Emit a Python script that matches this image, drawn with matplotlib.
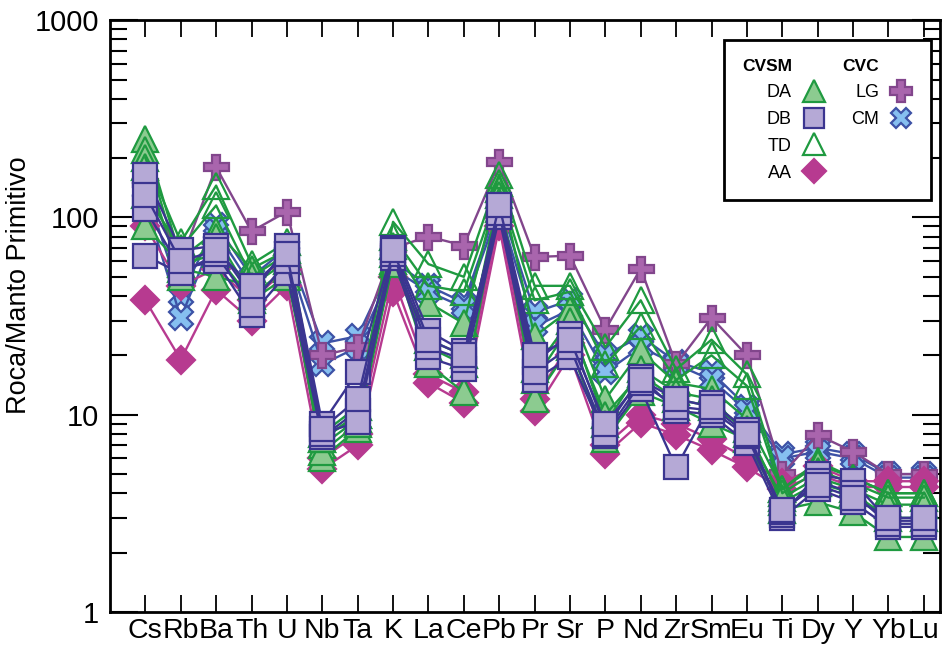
import matplotlib
matplotlib.use('Agg')
import matplotlib.pyplot as plt
from matplotlib.lines import Line2D
from matplotlib.ticker import FuncFormatter, NullLocator
from matplotlib import font_manager

# normalised values (rock / primitive mantle), one list per sample
elements = ['Cs', 'Rb', 'Ba', 'Th', 'U', 'Nb', 'Ta', 'K', 'La', 'Ce', 'Pb', 'Pr',
            'Sr', 'P', 'Nd', 'Zr', 'Sm', 'Eu', 'Ti', 'Dy', 'Y', 'Yb', 'Lu']

cm_samples = [
    [140, 40, 92, 50, 70, 23, 25, 60, 45, 37, 120, 33, 38, 20, 25, 18.5, 16.4, 11, 6.3, 6.8, 6.3, 5.0, 5.0],
    [120, 31, 85, 45, 65, 18, 22, 55, 42, 35, 110, 28, 34, 16.4, 22, 18, 15, 10.5, 6.0, 6.5, 6.0, 4.8, 4.8],
]
lg_samples = [
    [150, 60, 180, 85, 107, 20, 22, 70, 80, 72, 190, 63, 64, 27, 55, 18, 31, 20, 5.0, 7.9, 6.5, 5.0, 5.0],
]
aa_samples = [
    [38, 19, 43, 30, 45, 5.3, 7.0, 42, 14.5, 11.5, 90, 10.4, 20, 6.3, 9.1, 7.9, 6.6, 5.4, 4.2, 5.0, 4.3, 4.3, 4.3],
    [90, 45, 55, 38, 55, 6.0, 8.0, 50, 16, 13, 100, 12, 23, 7.0, 10, 9.0, 7.5, 6.0, 4.5, 5.5, 4.6, 4.6, 4.6],
]
da_samples = [
    [250, 62, 85, 55, 68, 7.0, 9.5, 72, 37, 29, 150, 25, 34, 12, 21, 14.5, 13.5, 9.5, 4.2, 5.6, 4.8, 4.0, 4.0],
    [220, 55, 50, 45, 60, 6.0, 8.5, 60, 22, 18, 130, 15, 28, 10, 16, 12, 11, 8.5, 3.6, 4.5, 4.0, 3.0, 3.0],
    [180, 50, 80, 40, 55, 6.5, 9.0, 65, 18, 13, 120, 12, 22, 7.5, 13, 11, 9.0, 7.5, 3.3, 3.6, 3.2, 2.4, 2.4],
    [90, 58, 65, 38, 50, 7.5, 10, 58, 24, 20, 110, 17, 30, 9.0, 17, 13, 12, 8.0, 3.8, 4.8, 4.2, 3.5, 3.5],
]
td_samples = [
    [200, 75, 145, 58, 75, 8.0, 11, 95, 58, 50, 165, 45, 45, 22, 38, 17, 24, 16, 4.2, 5.8, 4.8, 4.0, 4.0],
    [130, 70, 115, 50, 65, 7.5, 10, 80, 45, 42, 140, 38, 42, 18, 28, 15, 20, 14, 4.0, 5.2, 4.5, 3.8, 3.8],
]
db_samples = [
    [165, 68, 72, 40, 72, 9.0, 16.5, 70, 26.5, 21, 110, 18.5, 25.5, 8.5, 15.5, 10.5, 10, 7.2, 3.0, 4.2, 3.6, 2.7, 2.7],
    [110, 55, 60, 32, 52, 7.7, 10.5, 62, 19.5, 17, 100, 15, 19.5, 7.8, 13.5, 5.4, 11.5, 8.4, 3.1, 5.0, 4.6, 2.9, 2.9],
    [64, 52, 65, 36, 60, 8.0, 9.2, 65, 22, 19, 105, 16.5, 22, 8.0, 14.5, 11, 10.5, 7.8, 3.2, 4.6, 4.0, 2.8, 2.8],
    [130, 60, 68, 45, 65, 8.5, 12, 68, 24, 20, 115, 20, 24, 9.0, 15, 12, 11, 8.0, 3.3, 4.4, 3.8, 3.0, 3.0],
]

# name: (samples, marker, face, edge, line colour, marker size)
styles = {
    'CM': (cm_samples, 'X', '#86bff0', '#3d52a6', '#3d52a6', 17),
    'LG': (lg_samples, 'P', '#a965ad', '#82468c', '#82468c', 18),
    'AA': (aa_samples, 'D', '#b73a90', '#b73a90', '#b73a90', 14),
    'DA': (da_samples, '^', '#8ccb90', '#1f9a40', '#1f9a40', 19),
    'TD': (td_samples, '^', 'none', '#1f9a40', '#1f9a40', 19),
    'DB': (db_samples, 's', '#b5a9d6', '#3b3590', '#3b3590', 17),
}

names = [f.name for f in font_manager.fontManager.ttflist]
narrow = 'Liberation Sans Narrow' if 'Liberation Sans Narrow' in names else 'Liberation Sans'
plt.rcParams['font.family'] = [narrow, 'DejaVu Sans']

fig = plt.figure(figsize=(9.44, 6.5), dpi=100)
ax = fig.add_axes([0.1165, 0.0585, 0.879, 0.9105])

x = list(range(len(elements)))
for name, (samples, mk, fc, ec, lc, ms) in styles.items():
    for vals in samples:
        ax.plot(x, vals, color=lc, lw=1.7, marker=mk, ms=ms, mfc=fc, mec=ec, mew=1.6)

ax.set_yscale('log')
ax.set_ylim(1, 1000)
ax.set_xlim(-1, 22.45)
ax.yaxis.set_major_formatter(FuncFormatter(lambda v, p: f'{v:g}'))
ax.set_xticks(x)
ax.set_xticklabels(elements)
ax.xaxis.set_minor_locator(NullLocator())

ax.tick_params(axis='y', which='major', direction='in', length=20, width=1.5,
               left=True, right=True, labelsize=21, pad=8)
ax.tick_params(axis='y', which='minor', direction='in', length=12, width=1.5,
               left=True, right=True)
ax.tick_params(axis='x', which='major', direction='in', length=12, width=1.3,
               bottom=True, top=True, labelsize=20.5, pad=4)
for s in ax.spines.values():
    s.set_linewidth(2)

ax.set_ylabel('Roca/Manto Primitivo', fontsize=19.5)
ax.yaxis.set_label_coords(-0.094, 0.552)

# legend: two groups, text left of marker
def h(name):
    samples, mk, fc, ec, lc, ms = styles[name]
    return Line2D([], [], ls='none', marker=mk, ms=ms, mfc=fc, mec=ec, mew=1.6)

blank = Line2D([], [], ls='none')
handles = [blank, h('DA'), h('DB'), h('TD'), h('AA'), blank, h('LG'), h('CM'), blank, blank]
labels = ['CVSM', 'DA', 'DB', 'TD', 'AA', 'CVC', 'LG', 'CM', '', '']
leg = ax.legend(handles, labels, ncol=2, loc='upper right', bbox_to_anchor=(0.99, 0.966),
                borderaxespad=0, markerfirst=False, fancybox=False, edgecolor='black',
                framealpha=1, fontsize=13, markerscale=0.85, columnspacing=0.9,
                handletextpad=0.5, borderpad=1.0, labelspacing=0.55, handlelength=1.4)
leg.get_frame().set_linewidth(2)
for t in leg.get_texts():
    if t.get_text() in ('CVSM', 'CVC'):
        t.set_fontweight('bold')
        t.set_fontsize(12.5)

fig.savefig('out.png', dpi=100)
